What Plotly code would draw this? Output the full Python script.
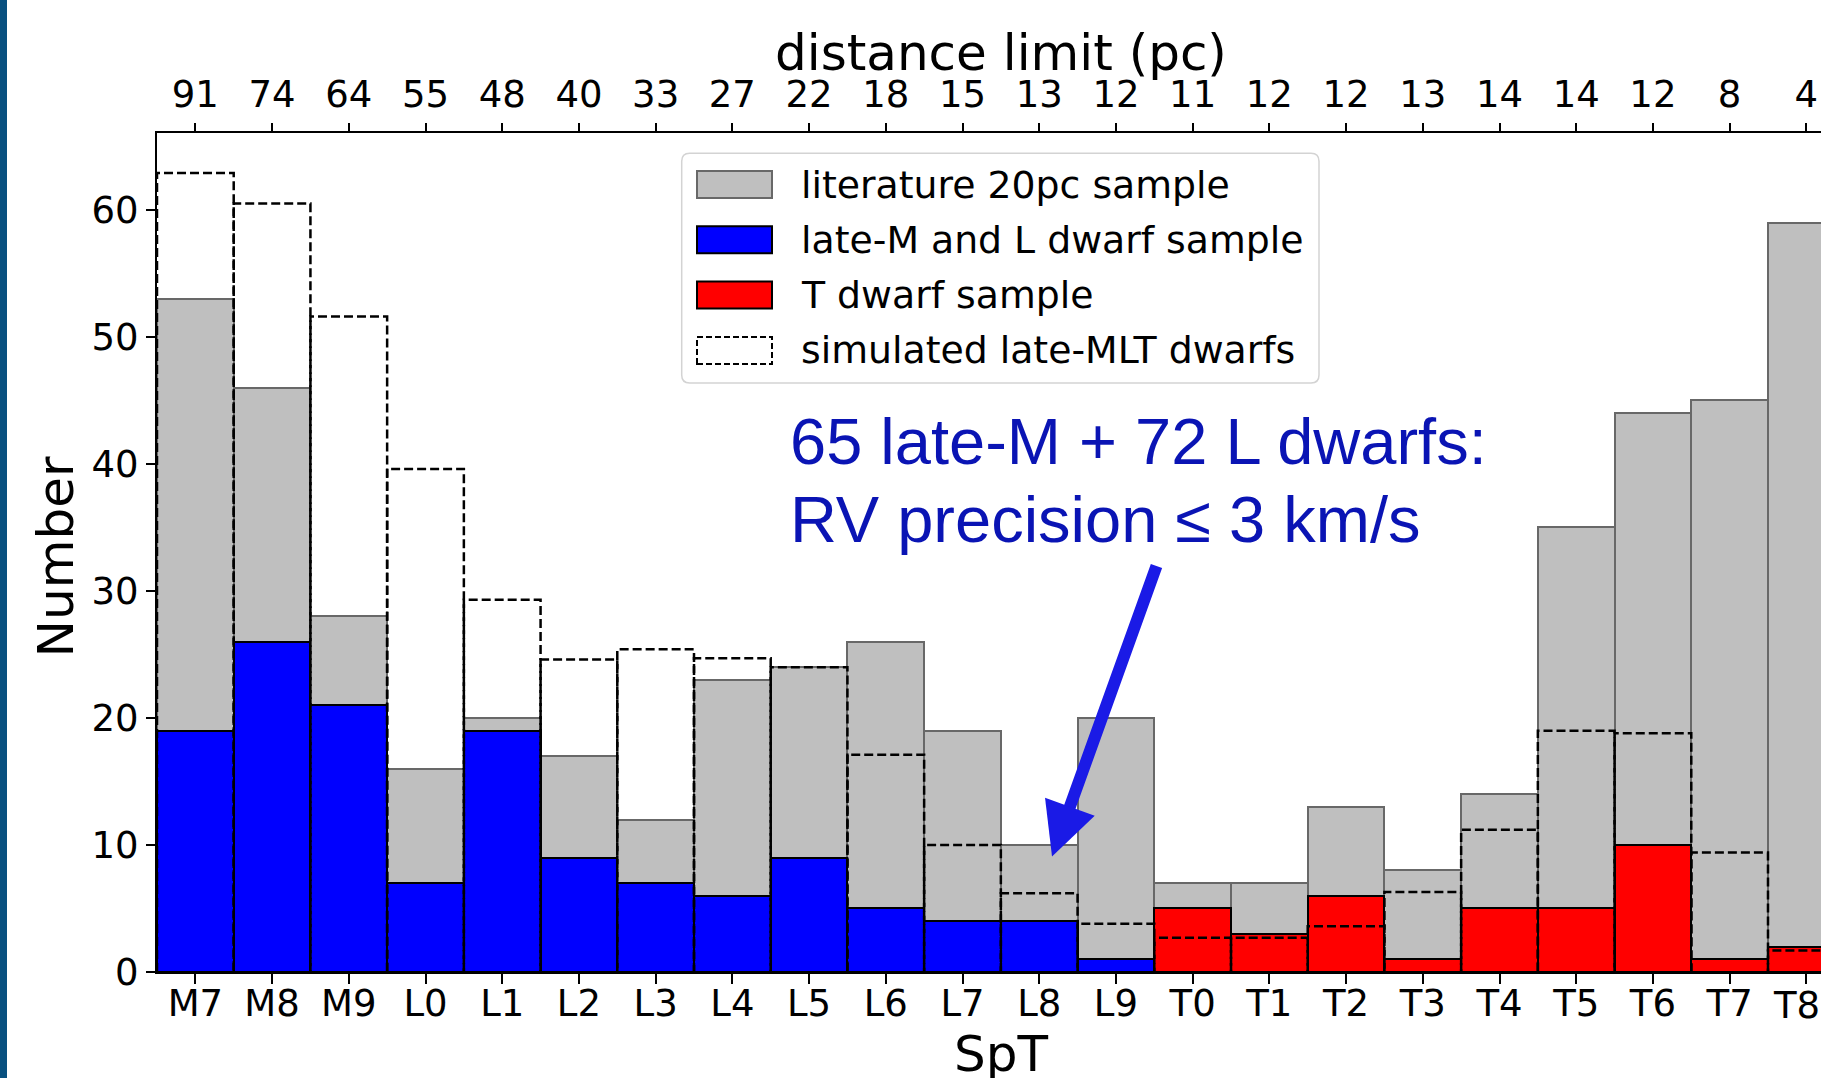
import numpy as np
import plotly.graph_objects as go

# ---------------- data ----------------
spt = ["M7", "M8", "M9", "L0", "L1", "L2", "L3", "L4", "L5", "L6", "L7",
       "L8", "L9", "T0", "T1", "T2", "T3", "T4", "T5", "T6", "T7", "T8"]
dist_limit = ["91", "74", "64", "55", "48", "40", "33", "27", "22", "18", "15",
              "13", "12", "11", "12", "12", "13", "14", "14", "12", "8", "4"]
literature_20pc = [53, 46, 28, 16, 20, 17, 12, 23, 24, 26, 19,
                   10, 20, 7, 7, 13, 8, 14, 35, 44, 45, 59]
lateM_L_sample = [19, 26, 21, 7, 19, 9, 7, 6, 9, 5, 4, 4, 1]          # M7..L9
T_sample = [5, 3, 6, 1, 5, 5, 10, 1, 2]                                # T0..T8
simulated = [62.9, 60.5, 51.6, 39.6, 29.3, 24.6, 25.4, 24.7, 24.0, 17.1, 10.0,
             6.2, 3.8, 2.7, 2.7, 3.6, 6.3, 11.2, 19.0, 18.8, 9.4, 1.7]

# ---------------- geometry (pixels) ----------------
W_FIG, H_FIG = 1821, 1078
M_L, M_R, M_T, M_B = 157, 0, 133, 106
PW = W_FIG - M_L - M_R
PH = H_FIG - M_T - M_B
BIN_PX = 76.714


def px_x(px):
    return (px - M_L) / PW


def px_y(py):
    return (H_FIG - M_B - py) / PH


idx = np.arange(len(spt))
x_ml = idx[:len(lateM_L_sample)]
x_t = idx[len(lateM_L_sample):len(lateM_L_sample) + len(T_sample)]
x_right = -0.5 + PW / BIN_PX

fig = go.Figure()

fig.add_trace(go.Bar(x=idx, y=literature_20pc, width=1,
                     marker=dict(color="#bfbfbf", line=dict(color="#686868", width=2)),
                     name="literature 20pc sample", showlegend=False))
fig.add_trace(go.Bar(x=x_ml, y=lateM_L_sample, width=1,
                     marker=dict(color="#0000ff", line=dict(color="#000000", width=2)),
                     name="late-M and L dwarf sample", showlegend=False))
fig.add_trace(go.Bar(x=x_t, y=T_sample, width=1,
                     marker=dict(color="#ff0000", line=dict(color="#000000", width=2)),
                     name="T dwarf sample", showlegend=False))

# dashed unfilled rectangles for the simulated histogram
sx, sy = [], []
for i, v in zip(idx, simulated):
    sx += [i - 0.5, i - 0.5, i + 0.5, i + 0.5, None]
    sy += [0, v, v, 0, None]
fig.add_trace(go.Scatter(x=sx, y=sy, mode="lines",
                         line=dict(color="black", width=2.5, dash="9px,4px"),
                         name="simulated late-MLT dwarfs", showlegend=False,
                         hoverinfo="skip"))

# invisible trace on top axis
fig.add_trace(go.Scatter(x=idx, y=[None] * len(idx), xaxis="x2", showlegend=False,
                         hoverinfo="skip", mode="markers"))

tickfont = dict(family="DejaVu Sans", size=37, color="black")

fig.update_layout(
    width=W_FIG, height=H_FIG,
    margin=dict(l=M_L, r=M_R, t=M_T, b=M_B, pad=0),
    paper_bgcolor="white", plot_bgcolor="white",
    barmode="overlay", bargap=0,
    showlegend=False,
    xaxis=dict(range=[-0.5, x_right], tickmode="array", tickvals=idx, ticktext=spt,
               showgrid=False, zeroline=False, showline=True, linecolor="black",
               linewidth=2, ticks="outside", ticklen=10, tickwidth=2,
               tickcolor="black", tickfont=tickfont, ticklabelstandoff=-12),
    xaxis2=dict(range=[-0.5, x_right], overlaying="x", side="top", anchor="y",
                tickmode="array", tickvals=idx, ticktext=dist_limit,
                showgrid=False, zeroline=False, showline=True, linecolor="black",
                linewidth=2, ticks="outside", ticklen=8, tickwidth=2,
                tickcolor="black", tickfont=tickfont, ticklabelstandoff=1),
    yaxis=dict(range=[0, 66.05], tickmode="array", tickvals=[0, 10, 20, 30, 40, 50, 60],
               showgrid=False, zeroline=False, showline=True, linecolor="black",
               linewidth=2, ticks="outside", ticklen=9, tickwidth=2,
               tickcolor="black", tickfont=tickfont),
)

titlefont = dict(family="DejaVu Sans", size=50, color="black")
ann = [
    dict(text="distance limit (pc)", xref="x", yref="paper", x=10.5, y=px_y(52.7),
         xanchor="center", yanchor="middle", showarrow=False, font=titlefont),
    dict(text="SpT", xref="x", yref="paper", x=10.5, y=px_y(1054),
         xanchor="center", yanchor="middle", showarrow=False, font=titlefont),
    dict(text="Number", xref="paper", yref="paper", x=px_x(56.4), y=px_y(557),
         xanchor="center", yanchor="middle", textangle=-90, showarrow=False,
         font=titlefont),
    dict(text="65 late-M + 72 L dwarfs:", xref="paper", yref="paper",
         x=px_x(788), y=px_y(441), xanchor="left", yanchor="middle", showarrow=False,
         font=dict(family="Liberation Sans", size=65, color="#0a14b4")),
    dict(text="RV precision ≤ 3 km/s", xref="paper", yref="paper",
         x=px_x(788), y=px_y(519.5), xanchor="left", yanchor="middle", showarrow=False,
         font=dict(family="Liberation Sans", size=65, color="#0a14b4")),
    dict(text="", xref="x", yref="y", x=11.167, y=9.1, ax=105, ay=-292,
         showarrow=True, arrowhead=2, arrowwidth=12, arrowsize=0.88,
         arrowcolor="#1a1ae6"),
    # last SpT label (cut by the right edge in the original): keep it inside the page
    dict(text=spt[-1], xref="paper", yref="paper", x=1.0, y=px_y(1005.5),
         xanchor="right", yanchor="middle", showarrow=False, borderpad=0,
         font=tickfont),
]

# ---------- manual legend ----------
LX0, LY0, LX1, LY1 = 681.7, 153.3, 1319, 383
r = 8
path = (f"M {px_x(LX0 + r)} {px_y(LY0)} L {px_x(LX1 - r)} {px_y(LY0)} "
        f"Q {px_x(LX1)} {px_y(LY0)} {px_x(LX1)} {px_y(LY0 + r)} "
        f"L {px_x(LX1)} {px_y(LY1 - r)} Q {px_x(LX1)} {px_y(LY1)} {px_x(LX1 - r)} {px_y(LY1)} "
        f"L {px_x(LX0 + r)} {px_y(LY1)} Q {px_x(LX0)} {px_y(LY1)} {px_x(LX0)} {px_y(LY1 - r)} "
        f"L {px_x(LX0)} {px_y(LY0 + r)} Q {px_x(LX0)} {px_y(LY0)} {px_x(LX0 + r)} {px_y(LY0)} Z")
shapes = [
    dict(type="rect", xref="paper", yref="paper", x0=px_x(0), x1=px_x(7),
         y0=px_y(H_FIG), y1=px_y(0), fillcolor="#08507f", line=dict(width=0),
         layer="above"),
    dict(type="path", xref="paper", yref="paper", path=path, fillcolor="white",
         line=dict(color="#d3d3d3", width=1.5), layer="above"),
]
legend_items = [
    ("literature 20pc sample", "#bfbfbf", "#686868", "solid"),
    ("late-M and L dwarf sample", "#0000ff", "#000000", "solid"),
    ("T dwarf sample", "#ff0000", "#000000", "solid"),
    ("simulated late-MLT dwarfs", "rgba(0,0,0,0)", "#000000", "6px,3px"),
]
row_c = [184.5, 239.8, 295.1, 350.4]
for (lab, fc, lc, dash), yc in zip(legend_items, row_c):
    shapes.append(dict(type="rect", xref="paper", yref="paper",
                       x0=px_x(697), x1=px_x(772), y0=px_y(yc + 13.5), y1=px_y(yc - 13.5),
                       fillcolor=fc, line=dict(color=lc, width=2, dash=dash),
                       layer="above"))
    ann.append(dict(text=lab, xref="paper", yref="paper", x=px_x(798.5), y=px_y(yc),
                    xanchor="left", yanchor="middle", showarrow=False,
                    font=dict(family="DejaVu Sans", size=37.8, color="black")))

fig.update_layout(annotations=ann, shapes=shapes)

post = ("document.body.style.margin='0';document.body.style.overflow='hidden';")
fig.write_html("out.html", config={"displayModeBar": False}, post_script=post)
